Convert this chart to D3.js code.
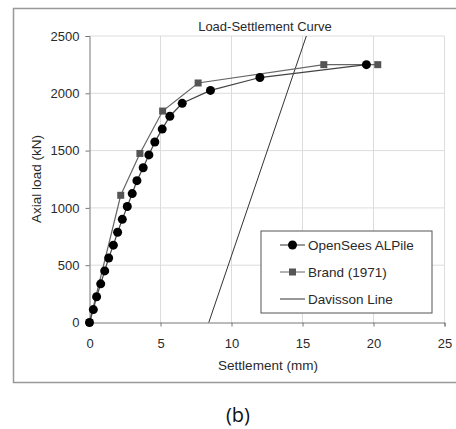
<!doctype html>
<html lang="en">
<head>
<meta charset="utf-8">
<title>Load-Settlement Curve</title>
<script src="https://d3js.org/d3.v7.min.js"></script>
<style>
  body { margin: 0; background: #fff; }
  svg text { font-family: "Liberation Sans", Arial, sans-serif; fill: #2a2a2a; }
</style>
</head>
<body>
<div id="chart"></div>
<script>
// OpenSees ALPile results (settlement mm, load kN)
var openseesSettle = [0, 0.27, 0.5, 0.79, 1.07, 1.35, 1.68, 1.98, 2.31, 2.66, 3.01, 3.34, 3.78, 4.18, 4.6, 5.12, 5.66, 6.53, 8.52, 12.0, 19.5];
var openseesLoad = [0, 112.5, 225, 337.5, 450, 562.5, 675, 787.5, 900, 1012.5, 1125, 1237.5, 1350, 1462.5, 1575, 1687.5, 1800, 1912.5, 2025, 2137.5, 2250];

// Brand (1971) measured
var brandSettle = [0, 2.2, 3.55, 5.15, 7.65, 16.5, 20.3];
var brandLoad = [0, 1110, 1475, 1845, 2090, 2250, 2250];

// Davisson line
var davissonSettle = [8.4, 15.27];
var davissonLoad = [0, 2500];

var xTicks = [0, 5, 10, 15, 20, 25];
var yTicks = [0, 500, 1000, 1500, 2000, 2500];
var legendLabels = ["OpenSees ALPile", "Brand (1971)", "Davisson Line"];

var W = 456, H = 429;
var margin = {top: 36, right: 11, bottom: 107, left: 89.5};

var svg = d3.select("#chart").append("svg")
    .attr("width", W)
    .attr("height", H);

// outer frame (right side runs off the picture)
svg.append("path")
    .attr("d", "M460,8.5 H13.5 V382.5 H460")
    .attr("fill", "none")
    .attr("stroke", "#999")
    .attr("stroke-width", 1.5);

var x = d3.scaleLinear().domain([0, 25]).range([margin.left, 444.5]);
var y = d3.scaleLinear().domain([0, 2500]).range([322.5, margin.top]);

var g = svg.append("g");

// grid
g.selectAll(".vgrid").data(xTicks.slice(1)).enter().append("line")
    .attr("x1", function(d) { return x(d); })
    .attr("x2", function(d) { return x(d); })
    .attr("y1", y(0)).attr("y2", y(2500))
    .attr("stroke", "#dcdcdc");
g.selectAll(".hgrid").data(yTicks.slice(1)).enter().append("line")
    .attr("x1", x(0)).attr("x2", x(25))
    .attr("y1", function(d) { return y(d); })
    .attr("y2", function(d) { return y(d); })
    .attr("stroke", "#dcdcdc");

// axes
var xAxis = g.append("g")
    .attr("transform", "translate(0," + y(0) + ")")
    .call(d3.axisBottom(x).tickValues(xTicks).tickFormat(d3.format("d")).tickSize(4).tickPadding(12));
var yAxis = g.append("g")
    .attr("transform", "translate(" + x(0) + ",0)")
    .call(d3.axisLeft(y).tickValues(yTicks).tickFormat(d3.format("d")).tickSize(4).tickPadding(6));
[xAxis, yAxis].forEach(function(a) {
  a.select(".domain").attr("stroke", "#777");
  a.selectAll(".tick line").attr("stroke", "#777");
  a.selectAll("text").attr("font-size", 13).style("fill", "#2a2a2a");
});

// titles
svg.append("text")
    .attr("x", 265).attr("y", 30.5)
    .attr("text-anchor", "middle")
    .attr("font-size", 13)
    .text("Load-Settlement Curve");
svg.append("text")
    .attr("x", 268).attr("y", 370)
    .attr("text-anchor", "middle")
    .attr("font-size", 13.5)
    .text("Settlement (mm)");
svg.append("text")
    .attr("transform", "translate(41,179) rotate(-90)")
    .attr("text-anchor", "middle")
    .attr("font-size", 13.5)
    .text("Axial load (kN)");
svg.append("text")
    .attr("x", 238).attr("y", 422)
    .attr("text-anchor", "middle")
    .attr("font-size", 20)
    .style("font-family", "'Open Sans', sans-serif")
    .style("fill", "#111")
    .text("(b)");

var line = d3.line()
    .x(function(d) { return x(d[0]); })
    .y(function(d) { return y(d[1]); });

var opensees = d3.zip(openseesSettle, openseesLoad);
var brand = d3.zip(brandSettle, brandLoad);
var davisson = d3.zip(davissonSettle, davissonLoad);

g.append("path").datum(davisson).attr("d", line)
    .attr("fill", "none").attr("stroke", "#333").attr("stroke-width", 1);
g.append("path").datum(brand).attr("d", line)
    .attr("fill", "none").attr("stroke", "#666").attr("stroke-width", 1.2);
g.append("path").datum(opensees).attr("d", line)
    .attr("fill", "none").attr("stroke", "#444").attr("stroke-width", 1.2);

g.selectAll(".sq").data(brand).enter().append("rect")
    .attr("x", function(d) { return x(d[0]) - 3.5; })
    .attr("y", function(d) { return y(d[1]) - 3.5; })
    .attr("width", 7).attr("height", 7)
    .attr("fill", "#555");
g.selectAll(".dot").data(opensees).enter().append("circle")
    .attr("cx", function(d) { return x(d[0]); })
    .attr("cy", function(d) { return y(d[1]); })
    .attr("r", 4.5)
    .attr("fill", "#000");

// legend
var lg = svg.append("g");
lg.append("rect")
    .attr("x", 261).attr("y", 231)
    .attr("width", 171).attr("height", 82)
    .attr("fill", "#fff").attr("stroke", "#555");
var ly = [245, 272, 299];
legendLabels.forEach(function(t, i) {
  lg.append("line")
      .attr("x1", 280).attr("x2", 305)
      .attr("y1", ly[i]).attr("y2", ly[i])
      .attr("stroke", i === 1 ? "#666" : "#333");
  if (i === 0) {
    lg.append("circle").attr("cx", 292.5).attr("cy", ly[i]).attr("r", 4.5).attr("fill", "#000");
  } else if (i === 1) {
    lg.append("rect").attr("x", 289).attr("y", ly[i] - 3.5).attr("width", 7).attr("height", 7).attr("fill", "#555");
  }
  lg.append("text")
      .attr("x", 308).attr("y", ly[i] + 5)
      .attr("font-size", 13.5)
      .text(t);
});
</script>
</body>
</html>
